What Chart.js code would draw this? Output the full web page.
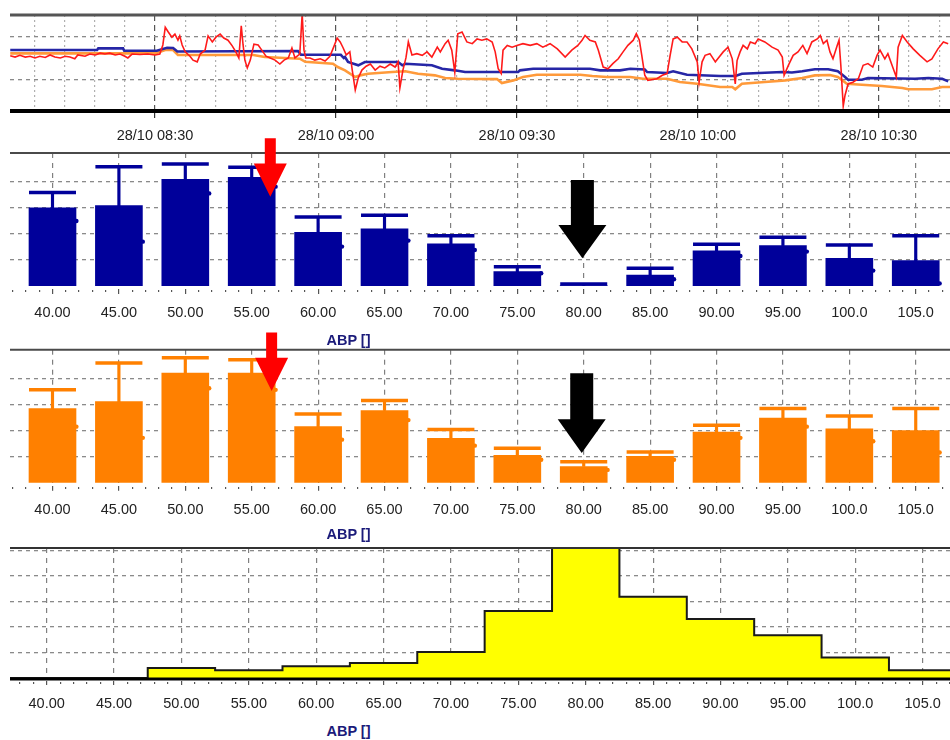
<!DOCTYPE html>
<html>
<head>
<meta charset="utf-8">
<title>ABP trend and bins</title>
<script src="https://cdn.jsdelivr.net/npm/chart.js@4.4.0/dist/chart.umd.min.js"></script>
<style>
  html, body { margin: 0; padding: 0; background: #fff; }
  body { position: relative; width: 950px; height: 740px; overflow: hidden; }
  .panel { position: absolute; left: 0; }
  .axis-title {
    position: absolute; left: 300px; width: 97px; text-align: center;
    font: bold 14.5px 'Liberation Sans', Arial, sans-serif;
    color: #1b1b7a; line-height: 20px;
  }
</style>
</head>
<body>
<div class="panel" style="top:0"><canvas id="trend" width="950" height="145"></canvas></div>
<div class="panel" style="top:135px"><canvas id="blueBars" width="950" height="190"></canvas></div>
<div class="panel" style="top:330px"><canvas id="orangeBars" width="950" height="190"></canvas></div>
<div class="panel" style="top:528px"><canvas id="hist" width="950" height="192"></canvas></div>
<div class="axis-title" style="top:330px">ABP []</div>
<div class="axis-title" style="top:524px">ABP []</div>
<div class="axis-title" style="top:721px">ABP []</div>
<script>
// ---- data ----
// trend panel: [minutes after 08:00, value]
const redTrend = [[6.0,78],[6.8,76.5],[7.6,78.5],[8.5,76.5],[9.3,77.5],[10.1,75.5],[10.9,77.5],[11.8,76],[12.6,79],[13.4,76.5],[14.3,75.5],[15.1,77.5],[15.9,76.5],[16.7,74.5],[17.2,79],[18.4,77.5],[19.2,80],[20.1,79],[20.9,81],[21.7,80],[22.5,81],[23.4,79],[24.2,80],[25.0,77.5],[25.5,75.5],[26.2,80],[27.5,79.5],[28.8,80],[30.0,79],[30.8,80],[31.3,90.5],[31.7,111],[32.2,105.5],[32.8,99.5],[33.3,103],[33.8,96],[34.1,101],[34.5,90.5],[35.0,82.5],[35.8,77.5],[36.3,73],[37.0,71],[37.5,80],[38.3,84.5],[38.8,101],[39.5,94],[40.1,99.5],[40.8,103],[41.4,98.5],[42.1,96],[42.8,89.5],[43.4,82.5],[43.9,75.5],[44.3,112.5],[44.6,90.5],[44.9,73],[45.3,64],[45.8,73],[46.4,91.5],[47.1,90.5],[47.7,84.5],[48.4,77.5],[49.1,75.5],[49.9,73],[50.7,68.5],[51.4,73],[52.1,75.5],[52.7,87],[53.2,75.5],[54.0,80],[54.4,126],[54.7,84.5],[55.0,75.5],[55.7,75.5],[56.5,73],[57.4,74.5],[58.2,72],[59.0,77.5],[59.7,89.5],[60.2,98.5],[60.7,94],[61.2,87],[61.7,79],[62.3,82.5],[62.7,61.5],[63.2,38.5],[63.7,52.5],[64.3,61.5],[65.0,66],[65.7,68.5],[66.5,61.5],[67.3,66],[68.1,64],[69.0,68.5],[69.8,65],[70.3,71],[70.6,41],[71.1,61.5],[71.6,75.5],[72.0,94],[72.6,79],[73.4,80.5],[74.3,78.5],[75.1,82.5],[75.9,76.5],[76.8,88],[77.3,82.5],[78.1,92],[78.6,96],[79.2,84.5],[79.7,59],[80.2,103.5],[80.9,105.5],[81.7,94],[82.6,92],[83.4,97.5],[84.2,96],[85.0,97.5],[85.9,94],[86.4,82.5],[86.9,63],[87.4,57.5],[87.7,84.5],[88.4,90],[89.2,88],[90.0,90],[91.0,92],[92.2,90],[93.3,92],[94.3,88],[95.5,92],[96.7,86],[98.0,76.5],[99.1,84.5],[100.1,90],[100.8,96],[101.3,101.5],[102.1,96],[103.0,94],[103.5,84.5],[104.3,65],[105.1,63],[105.9,69],[106.8,74.5],[107.6,82.5],[108.4,90],[109.3,96],[109.8,103.5],[110.3,96],[110.7,78.5],[111.2,55.5],[111.7,49.5],[113.2,51.5],[114.1,55.5],[114.9,57.5],[115.4,78.5],[115.9,97.5],[116.6,99.5],[117.4,94],[118.2,94],[119.0,86],[119.9,71],[120.2,47.5],[120.7,71],[121.2,78.5],[122.0,80.5],[122.9,71],[123.3,74.5],[124.2,82.5],[125.0,88],[125.7,74.5],[126.2,45.5],[126.5,72.5],[127.0,82.5],[127.5,90],[128.2,86],[128.7,94],[129.5,92],[130.0,97.5],[131.1,94],[132.3,88],[133.3,84.5],[134.0,76.5],[134.3,55.5],[135.0,67],[135.8,78.5],[136.6,82.5],[137.4,90],[138.1,80.5],[138.9,94],[139.8,97.5],[140.3,101.5],[140.8,92],[141.4,96],[141.9,82.5],[142.4,74.5],[143.1,90],[143.4,96],[143.7,67],[144.1,20],[144.4,32.5],[144.9,45.5],[145.7,47.5],[146.6,51.5],[147.4,67],[148.2,69],[149.0,65],[149.7,78.5],[150.2,84.5],[151.0,74.5],[151.5,80.5],[152.4,63],[152.9,53.5],[153.2,88],[153.9,101.5],[154.7,94],[155.7,86],[156.8,78.5],[158.0,71],[158.8,74.5],[159.8,86],[160.7,94],[161.5,92]];
const blueTrend = [[6.0,84.6],[20.4,84.6],[20.6,86.6],[24.7,86.6],[24.9,83.8],[30.3,83.8],[32.0,87.3],[33.0,87],[33.7,83],[53.7,83.5],[54.2,79.2],[60.8,79.2],[61.3,75.4],[61.5,76.6],[62.0,70.8],[63.7,67],[64.8,70.8],[70.3,70.8],[71.0,67],[71.5,68.8],[75.9,67],[77.6,63],[79.7,61.2],[81.4,59.2],[90.2,59.2],[90.5,61.2],[92.7,63],[102.1,63],[103.8,61.2],[107.1,61.2],[108.8,63],[111.2,62.1],[111.6,59.2],[114.9,58.1],[115.9,60.1],[118.2,56.1],[123.7,54.6],[126.2,54.6],[127.3,57.3],[134.0,59.2],[135.6,58.7],[137.3,60.1],[139.4,62.4],[141.6,62.4],[143.2,60.1],[144.4,53.5],[144.9,50.3],[147.2,50.3],[148.2,52.3],[156.0,51.5],[158.2,52.3],[160.5,51.5],[161.5,48.5]];
const orangeTrend = [[6.0,80.8],[30.0,80.8],[31.7,84.6],[33.0,84.6],[33.8,78.9],[46.3,78.9],[48.2,76.6],[54.0,74.6],[54.9,71.1],[59.5,68.8],[60.3,65],[61.5,61.2],[63.2,53.5],[64.0,55.4],[65.3,57.3],[69.3,59.2],[71.5,60.1],[73.6,57.3],[76.4,55.4],[78.1,52.3],[80.2,51.5],[86.7,51.1],[87.5,46.5],[89.4,49.6],[91.0,53.5],[93.3,56.1],[100.5,56.1],[102.5,54.6],[104.9,53.5],[108.8,53.5],[110.9,51.5],[114.9,51.5],[117.0,47.7],[119.9,45.7],[123.7,41.9],[125.7,41.9],[126.2,39.3],[127.3,45.7],[131.1,47.7],[134.5,49.6],[137.3,52.3],[139.4,55.4],[141.9,55.8],[143.2,53.5],[144.7,45.7],[147.2,44.6],[150.5,43.1],[153.9,40.8],[154.9,39.3],[158.8,39.3],[160.5,41.9],[161.8,41.9]];
const timeTicks = [30, 60, 90, 120, 150];
const timeLabels = ['28/10 08:30', '28/10 09:00', '28/10 09:30', '28/10 10:00', '28/10 10:30'];

// ABP bins
const abpValues = [40, 45, 50, 55, 60, 65, 70, 75, 80, 85, 90, 95, 100, 105];
const abpLabels = ['40.00', '45.00', '50.00', '55.00', '60.00', '65.00', '70.00', '75.00', '80.00', '85.00', '90.00', '95.00', '100.0', '105.0'];
const blueMean  = [3.00, 3.08, 4.09, 4.17, 2.06, 2.19, 1.62, 0.55, 0.02, 0.42, 1.35, 1.55, 1.06, 0.97];
const blueUpper = [3.59, 4.57, 4.68, 4.55, 2.65, 2.71, 1.93, 0.74, 0.08, 0.68, 1.60, 1.87, 1.57, 1.93];
const blueDot   = [2.49, 1.70, 3.55, 3.81, 1.51, 1.74, 1.38, 0.49, null, 0.26, 1.15, 1.32, 0.59, 0.10];
const orangeMean  = [2.84, 3.11, 4.20, 4.20, 2.15, 2.77, 1.70, 1.05, 0.62, 1.01, 1.94, 2.48, 2.07, 2.00];
const orangeUpper = [3.56, 4.59, 4.79, 4.71, 2.63, 3.15, 2.04, 1.32, 0.80, 1.18, 2.20, 2.85, 2.56, 2.85];
const orangeDot   = [2.15, 1.72, 3.62, 3.56, 1.65, 2.40, 1.42, 0.88, 0.49, 0.88, 1.72, 2.15, 1.59, 1.16];

// histogram (bin centres, bin width 5)
const histCenters = [35, 40, 45, 50, 55, 60, 65, 70, 75, 80, 85, 90, 95, 100, 105];
const histValues  = [0, 0, 0, 0.39, 0.30, 0.46, 0.59, 1.02, 2.63, 5.3, 3.19, 2.31, 1.68, 0.80, 0.30];
const histHalf = 2.5;

// arrow annotations, in data units of their panel
const blueArrows = [
  { x: 56.4, top: 5.67, base: 4.70, tip: 3.42, shaft: 11, head: 33, color: '#ff0000' },
  { x: 79.9, top: 4.06, base: 2.34, tip: 1.06, shaft: 23, head: 48, color: '#000000' }
];
const orangeArrows = [
  { x: 56.5, top: 5.76, base: 4.79, tip: 3.52, shaft: 11, head: 33, color: '#ff0000' },
  { x: 79.85, top: 4.20, base: 2.43, tip: 1.14, shaft: 23, head: 48, color: '#000000' }
];

(() => {
  Chart.defaults.font.family = "'Liberation Sans', Arial, sans-serif";
  Chart.defaults.font.size = 14.5;
  Chart.defaults.color = '#222';
  Chart.defaults.animation = false;
  Chart.defaults.plugins.legend.display = false;
  Chart.defaults.plugins.tooltip.enabled = false;

  const NAVY = '#00009a', ORANGE = '#ff8000';
  const clear = 'rgba(0,0,0,0)';

  // helpers
  const toXY = arr => arr.map(p => ({ x: p[0], y: p[1] }));
  function range(a, b, step) {
    const out = [];
    for (let v = a; v <= b; v += step) out.push(v);
    return out;
  }
  const isFive = c => c.tick && c.tick.value % 5 === 0;
  // fixed axis height, and no extra side padding for edge labels
  const fixHeight = h => s => { s.height = h; s.paddingLeft = 0; s.paddingRight = 0; };

  function framePlugin(topW, topC, botW, botC) {
    return {
      id: 'frame',
      afterDatasetsDraw(chart) {
        const { ctx, chartArea: a } = chart;
        ctx.save();
        if (topW) {
          ctx.strokeStyle = topC; ctx.lineWidth = topW;
          ctx.beginPath(); ctx.moveTo(a.left, a.top); ctx.lineTo(a.right, a.top); ctx.stroke();
        }
        if (botW) {
          ctx.strokeStyle = botC; ctx.lineWidth = botW;
          ctx.beginPath(); ctx.moveTo(a.left, a.bottom + 1); ctx.lineTo(a.right, a.bottom + 1); ctx.stroke();
        }
        ctx.restore();
      }
    };
  }

  function arrowPlugin(list) {
    return {
      id: 'arrows',
      afterDraw(chart) {
        const { ctx, scales: { x, y } } = chart;
        ctx.save();
        list.forEach(a => {
          const cx = x.getPixelForValue(a.x);
          const top = y.getPixelForValue(a.top), base = y.getPixelForValue(a.base), tip = y.getPixelForValue(a.tip);
          ctx.fillStyle = a.color;
          ctx.beginPath();
          ctx.moveTo(cx - a.shaft / 2, top);
          ctx.lineTo(cx + a.shaft / 2, top);
          ctx.lineTo(cx + a.shaft / 2, base);
          ctx.lineTo(cx + a.head / 2, base);
          ctx.lineTo(cx, tip);
          ctx.lineTo(cx - a.head / 2, base);
          ctx.lineTo(cx - a.shaft / 2, base);
          ctx.closePath();
          ctx.fill();
        });
        ctx.restore();
      }
    };
  }

  // y axis without labels, only dashed grid lines
  function hiddenY(min, max, lines) {
    return {
      min, max,
      afterBuildTicks: s => { s.ticks = lines.map(v => ({ value: v })); },
      afterFit: s => { s.width = 0; },
      ticks: { display: false },
      grid: { color: '#8a8a8a', lineWidth: 1.3, drawTicks: false },
      border: { display: false, dash: [4, 4] }
    };
  }

  // ABP x axis (linear so the frame can start at the left edge)
  function abpAxis(min, max, height, tickLen) {
    return {
      type: 'linear', min, max, offset: false,
      afterBuildTicks: s => { s.ticks = range(Math.ceil(min), Math.floor(max), 1).map(v => ({ value: v })); },
      afterFit: fixHeight(height),
      ticks: {
        autoSkip: false, maxRotation: 0, padding: 10.5,
        callback: v => { const i = abpValues.indexOf(v); return i < 0 ? '' : abpLabels[i]; }
      },
      grid: {
        offset: false, lineWidth: 1.2, tickLength: tickLen, tickColor: '#555',
        color: c => isFive(c) ? '#808080' : clear,
        tickBorderDash: c => isFive(c) ? [0, 3, 5, 10] : [0, 4, 2, 10]
      },
      border: { display: false, dash: [5, 5] }
    };
  }

  const base = {
    responsive: false, devicePixelRatio: 1
  };

  // ---- trend panel ----
  new Chart(document.getElementById('trend'), {
    type: 'line',
    data: {
      datasets: [
        { data: toXY(redTrend), borderColor: '#ff1a1a', borderWidth: 1.6 },
        { data: toXY(blueTrend), borderColor: '#2626a6', borderWidth: 2.6 },
        { data: toXY(orangeTrend), borderColor: '#ff9a3a', borderWidth: 2.6 }
      ]
    },
    options: {
      ...base,
      layout: { autoPadding: false, padding: { top: 15, left: 10, right: 0, bottom: 0 } },
      elements: { point: { radius: 0 }, line: { tension: 0 } },
      scales: {
        x: {
          type: 'linear', min: 5.96, max: 161.8,
          afterBuildTicks: s => { s.ticks = range(10, 160, 5).map(v => ({ value: v })); },
          afterFit: fixHeight(35),
          ticks: {
            autoSkip: false, maxRotation: 0, padding: 9,
            callback: v => { const i = timeTicks.indexOf(v); return i < 0 ? '' : timeLabels[i]; }
          },
          grid: {
            lineWidth: 1.2, tickLength: 8,
            color: c => c.tick && timeTicks.includes(c.tick.value) ? '#555' : '#b0b0b0',
            tickColor: c => c.tick && timeTicks.includes(c.tick.value) ? '#333' : clear,
            tickBorderDash: [0, 3, 5, 10]
          },
          border: { display: false, dash: c => c.tick && timeTicks.includes(c.tick.value) ? [6, 4] : [2, 3] }
        },
        y: hiddenY(15.4, 125.1, [50, 100])
      }
    },
    plugins: [framePlugin(3, '#555', 4, '#000')]
  });

  // ---- two bar panels with upper whiskers ----
  function barPanel(id, color, mean, upper, dots, arrows, axisH) {
    return new Chart(document.getElementById(id), {
      type: 'bar',
      data: {
        datasets: [
          { type: 'scatter', data: abpValues.map((v, i) => ({ x: v, y: upper[i] })),
            pointStyle: 'line', pointRadius: 23.5, pointHoverRadius: 23.5,
            pointBorderWidth: 3.5, pointBorderColor: color, borderColor: color },
          { data: abpValues.map((v, i) => ({ x: v, y: [mean[i], upper[i]] })),
            backgroundColor: color, barThickness: 2.5, grouped: false },
          { type: 'scatter', data: abpValues.map((v, i) => ({ x: v + 1.8, y: dots[i] })),
            pointRadius: 2.2, pointBackgroundColor: color, pointBorderWidth: 0 },
          { data: abpValues.map((v, i) => ({ x: v, y: mean[i] })),
            backgroundColor: color, barThickness: 47, grouped: false }
        ]
      },
      options: {
        ...base,
        layout: { autoPadding: false, padding: { top: 190 - 133 - axisH, left: 10, right: 0, bottom: 0 } },
        scales: {
          x: abpAxis(36.8, 107.58, axisH, 8),
          y: hiddenY(0, 5.1, [1, 2, 3, 4])
        }
      },
      plugins: [framePlugin(2, '#4a4a4a', 0, null), arrowPlugin(arrows)]
    });
  }
  barPanel('blueBars', NAVY, blueMean, blueUpper, blueDot, blueArrows, 39);
  barPanel('orangeBars', ORANGE, orangeMean, orangeUpper, orangeDot, orangeArrows, 37.3);

  // ---- histogram ----
  const histPoints = histCenters.map((c, i) => ({ x: c - histHalf, y: histValues[i] }));
  histPoints.push({ x: histCenters[histCenters.length - 1] + histHalf, y: histValues[histValues.length - 1] });

  new Chart(document.getElementById('hist'), {
    type: 'line',
    data: {
      datasets: [{
        data: histPoints, stepped: true, fill: 'origin',
        backgroundColor: '#ffff00', borderColor: '#1a1a1a', borderWidth: 2, pointRadius: 0
      }]
    },
    options: {
      ...base,
      layout: { autoPadding: false, padding: { top: 20, left: 10, right: 0, bottom: 0 } },
      scales: {
        x: abpAxis(37.28, 107.03, 42, 7),
        y: hiddenY(0, 5.1, [1, 2, 3, 4, 5])
      }
    },
    plugins: [framePlugin(2, '#333', 3, '#000')]
  });
})();
</script>
</body>
</html>
